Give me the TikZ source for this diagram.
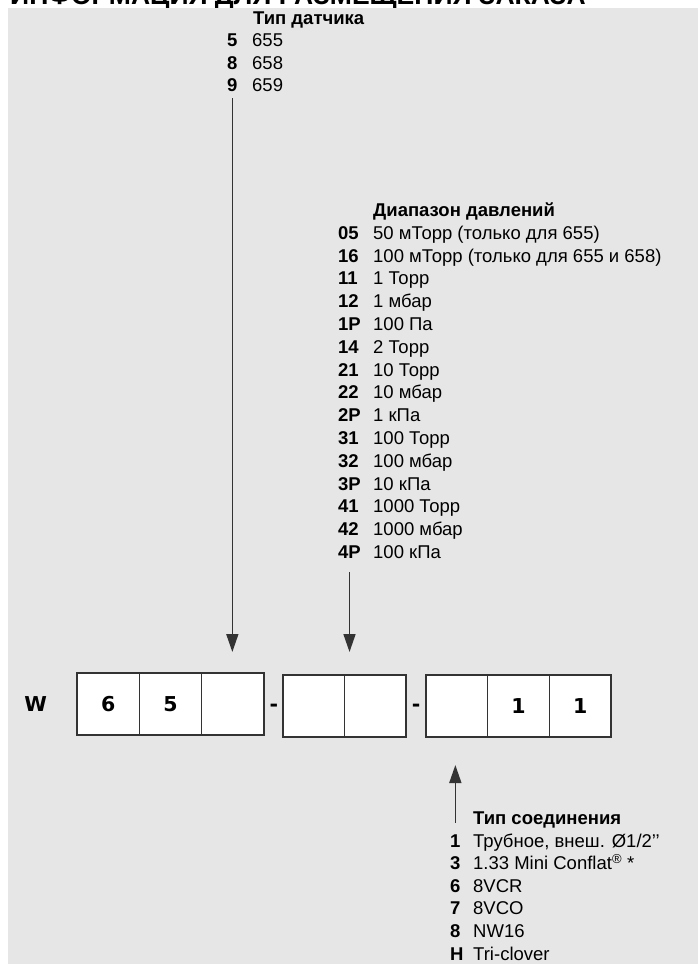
\documentclass[tikz,border=0pt]{standalone}
\usepackage{fontspec}
\setmainfont{Liberation Sans}
\newfontfamily\digfont{DejaVu Sans}
\usetikzlibrary{arrows.meta,calc}
\definecolor{bg}{HTML}{E6E6E6}
\definecolor{ln}{HTML}{333333}
\tikzset{
  code/.style={anchor=base west, inner sep=0pt, font=\bfseries\fontsize{18.5}{22}\selectfont},
  item/.style={anchor=base west, inner sep=0pt, font=\fontsize{18.5}{22}\selectfont},
  head/.style={anchor=base west, inner sep=0pt, font=\bfseries\fontsize{18.5}{22}\selectfont},
  cell/.style={draw=ln, fill=white, line width=1.5pt, minimum height=62pt, inner sep=0pt, outer sep=0pt, font=\digfont\bfseries\fontsize{20.5}{21}\selectfont},
  bigch/.style={inner sep=0pt, font=\digfont\bfseries\fontsize{20.5}{21}\selectfont},
  arr/.style={draw=ln, line width=1.6pt, -{Triangle[width=12pt,length=18pt]}},
}
\begin{document}
\begin{tikzpicture}[x=1pt,y=-1pt]
\useasboundingbox (0,0) rectangle (698,964);
\clip (0,0) rectangle (698,964);
\fill[white] (0,0) rectangle (698,964);
\node[anchor=base west, inner sep=0pt, text depth=0pt, font=\bfseries\fontsize{26.5}{27}\selectfont] (title) at (10,4) {ИНФОРМАЦИЯ ДЛЯ РАЗМЕЩЕНИЯ ЗАКАЗА};
\fill[bg] (8,8) rectangle (698,964);

% sensor type
\node[head] (shead) at (253,24.5) {Тип датчика};
\foreach \c/\t [count=\i] in {5/655,8/658,9/659}{
  \pgfmathsetmacro\yy{24+22.5*\i}
  \node[code] (sc\i) at (227,\yy) {\c};
  \node[item] (st\i) at (252,\yy) {\t};
}

% pressure range
\node[head] (phead) at (373,216.5) {Диапазон давлений};
\foreach \c/\t [count=\i] in {05/50 мТорр (только для 655),16/100 мТорр (только для 655 и 658),11/1 Торр,12/1 мбар,1P/100 Па,14/2 Торр,21/10 Торр,22/10 мбар,2P/1 кПа,31/100 Торр,32/100 мбар,3P/10 кПа,41/1000 Торр,42/1000 мбар,4P/100 кПа}{
  \pgfmathsetmacro\yy{216.5+22.8*\i}
  \node[code] (pc\i) at (338,\yy) {\c};
  \node[item] (pt\i) at (373,\yy) {\t};
}

% connection type
\node[head] (chead) at (473,824.5) {Тип соединения};
\foreach \c/\t [count=\i] in {1/{Трубное, внеш. Ø1/2\symbol{39}\symbol{39}},3/{1.33 Mini Conflat\textsuperscript{®} *},6/8VCR,7/8VCO,8/NW16,H/Tri-clover}{
  \pgfmathsetmacro\yy{824.5+22.6*\i}
  \node[code] (cc\i) at (450,\yy) {\c};
  \node[item] (ct\i) at (473,\yy) {\t};
}

% order code boxes
\node[bigch] (w) at (35.6,704) {W};
\node[cell, minimum width=62.33pt] (b1) at (108.2,704) {6};
\node[cell, minimum width=62.33pt] (b2) at (170.5,704) {5};
\node[cell, minimum width=62.33pt] (b3) at (232.8,704) {};
\node[bigch] (d1) at (274,708) {-};
\node[cell, minimum width=61.5pt] (b4) at (313.7,706) {};
\node[cell, minimum width=61.5pt] (b5) at (375.2,706) {};
\node[bigch] (d2) at (416,708) {-};
\node[cell, minimum width=61.67pt] (b6) at (456.8,706) {};
\node[cell, minimum width=61.67pt] (b7) at (518.5,706) {1};
\node[cell, minimum width=61.67pt] (b8) at (580.2,706) {1};

% connectors
\draw[arr] ($(sc3.south)+(0,6.5)$) -- ($(sc3.south |- b3.north)+(0,-21)$);
\draw[arr] ($(pc15.south)+(0,13.5)$) -- ($(pc15.south |- b4.north)+(0,-23)$);
\draw[arr] ($(chead.base -| cc1.south)+(0,-2)$) -- ($(cc1.south |- b6.south)+(0,28)$);
\end{tikzpicture}
\end{document}
